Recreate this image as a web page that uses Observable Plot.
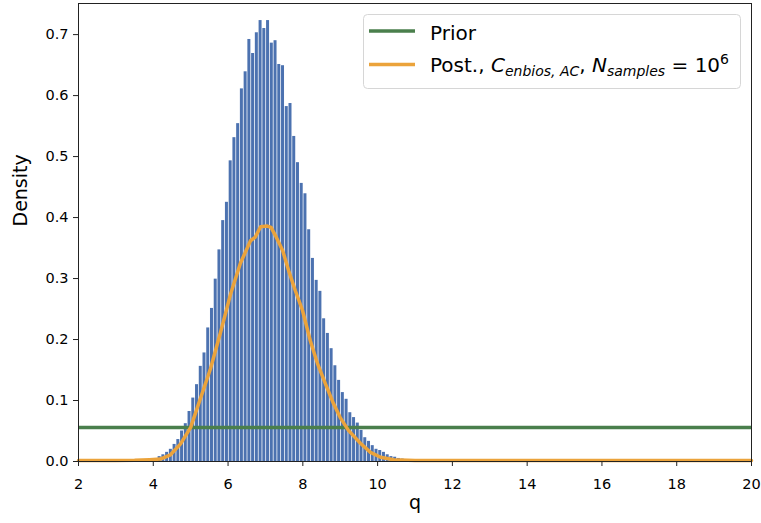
<!DOCTYPE html>
<html>
<head>
<meta charset="utf-8">
<script src="https://cdn.jsdelivr.net/npm/d3@7"></script>
<script src="https://cdn.jsdelivr.net/npm/@observablehq/plot@0.6"></script>
<style>
  html, body { margin: 0; padding: 0; background: white; }
  #chart svg { display: block; }
</style>
</head>
<body>
<div id="chart"></div>
<script>
// Histogram of sampled q values (bin width 0.1), density per bin
const binWidth = 0.1;
const firstBinCenter = 3.97;
const histDensity = [
  0.002, 0.004,
  0.008, 0.011, 0.015, 0.020, 0.028, 0.036, 0.050, 0.062, 0.082, 0.104,
  0.126, 0.156, 0.178, 0.219, 0.251, 0.299, 0.347, 0.395, 0.425, 0.493,
  0.531, 0.554, 0.611, 0.639, 0.692, 0.669, 0.703, 0.723, 0.710, 0.723,
  0.686, 0.690, 0.651, 0.649, 0.582, 0.587, 0.533, 0.490, 0.456, 0.439,
  0.380, 0.333, 0.297, 0.279, 0.234, 0.210, 0.185, 0.157, 0.133, 0.113,
  0.102, 0.080, 0.072, 0.063, 0.051, 0.039, 0.033, 0.026, 0.020, 0.018,
  0.015, 0.011, 0.008, 0.007, 0.005, 0.004, 0.003, 0.002
];

// Uniform prior on [2, 20]
const priorRange = [2, 20];
const priorDensity = 1 / (priorRange[1] - priorRange[0]);

// Posterior density curve
const postQ = [2.0, 3.0, 3.5, 3.9, 4.19, 4.46, 4.73, 5.0, 5.26, 5.53, 5.8, 6.07, 6.33, 6.6, 6.73,
  6.87, 7.05, 7.15, 7.27, 7.46, 7.62, 7.8, 7.99, 8.2, 8.39, 8.6, 8.82, 9.0, 9.22, 9.54, 9.81,
  10.08, 10.43, 11.0, 12.0, 20.0];
const postDensity = [0.0015, 0.0015, 0.002, 0.003, 0.004, 0.011, 0.029, 0.056, 0.103, 0.152, 0.212,
  0.275, 0.325, 0.362, 0.368, 0.385, 0.386, 0.384, 0.370, 0.346, 0.313, 0.280, 0.248, 0.198,
  0.161, 0.128, 0.095, 0.072, 0.051, 0.030, 0.015, 0.007, 0.003, 0.0018, 0.0015, 0.0015];

const xTicks = [2, 4, 6, 8, 10, 12, 14, 16, 18, 20];
const yTicks = [0, 0.1, 0.2, 0.3, 0.4, 0.5, 0.6, 0.7];

const colors = { hist: "#4c72b0", prior: "#4a7f4c", post: "#eba33b" };

const bars = histDensity.map((d, i) => {
  const c = firstBinCenter + i * binWidth;
  return { x1: c - binWidth * 0.4, x2: c + binWidth * 0.4, density: d };
});
const post = postQ.map((q, i) => ({ q, d: postDensity[i] }));

const font = "DejaVu Sans";

const svg = Plot.plot({
  width: 761,
  height: 523,
  marginLeft: 78,
  marginRight: 10,
  marginTop: 3,
  marginBottom: 62,
  style: { fontFamily: font, fontSize: "14.5px", color: "black", background: "white" },
  x: { domain: priorRange },
  y: { domain: [0, 0.751] },
  marks: [
    Plot.rectY(bars, { x1: "x1", x2: "x2", y1: 0, y2: "density", fill: colors.hist }),
    Plot.ruleY([priorDensity], { stroke: colors.prior, strokeWidth: 3.5 }),
    Plot.line(post, { x: "q", y: "d", stroke: colors.post, strokeWidth: 3.5, curve: "linear" }),
    Plot.frame({ stroke: "#222", strokeWidth: 1 }),
    Plot.axisX({ ticks: xTicks, tickSize: 5, tickPadding: 12, tickFormat: d => String(d), label: null, stroke: "#222" }),
    Plot.axisY({ ticks: yTicks, tickSize: 5, tickPadding: 5, tickFormat: d3.format(".1f"), label: null, stroke: "#222" }),
    Plot.text(["q"], { frameAnchor: "bottom", dy: 47, fontSize: 19, fill: "black" }),
    Plot.text(["Density"], { frameAnchor: "left", dx: -58, dy: -6, rotate: -90, fontSize: 19, fill: "black" })
  ]
});

// Legend drawn inside the plot area, upper right
const lg = d3.select(svg).append("g")
  .attr("font-family", font)
  .attr("text-anchor", "start");
lg.append("rect")
  .attr("x", 363.5).attr("y", 14.5).attr("width", 377).attr("height", 74)
  .attr("rx", 4).attr("fill", "white").attr("fill-opacity", 0.8)
  .attr("stroke", "#d6d6d6").attr("stroke-width", 1);
lg.append("line").attr("x1", 369).attr("x2", 415).attr("y1", 31).attr("y2", 31)
  .attr("stroke", colors.prior).attr("stroke-width", 3.5);
lg.append("line").attr("x1", 369).attr("x2", 415).attr("y1", 64.5).attr("y2", 64.5)
  .attr("stroke", colors.post).attr("stroke-width", 3.5);
lg.append("text").attr("x", 430).attr("y", 39.5).attr("font-size", 20).attr("fill", "black").text("Prior");

const t2 = lg.append("text").attr("x", 430).attr("y", 72).attr("font-size", 20).attr("fill", "black");
t2.append("tspan").text("Post., ");
t2.append("tspan").attr("font-style", "italic").text("C");
t2.append("tspan").attr("font-style", "italic").attr("font-size", 14).attr("dy", 4).text("enbios, AC");
t2.append("tspan").attr("dy", -4).text(", ");
t2.append("tspan").attr("font-style", "italic").text("N");
t2.append("tspan").attr("font-style", "italic").attr("font-size", 14).attr("dy", 4).text("samples");
t2.append("tspan").attr("dy", -4).text(" = 10");
t2.append("tspan").attr("font-size", 14).attr("dy", -8).text("6");

document.getElementById("chart").appendChild(svg);
</script>
</body>
</html>
